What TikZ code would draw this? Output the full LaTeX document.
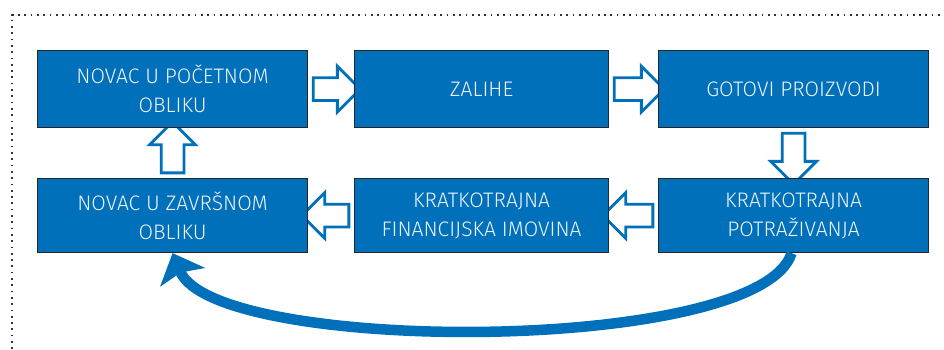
\documentclass[tikz,border=0pt]{standalone}
\usepackage{fontspec}
\setmainfont{Fira Sans Light}
\usetikzlibrary{shapes.arrows,arrows.meta,backgrounds,calc}
\definecolor{blu}{HTML}{0070BA}
\definecolor{txt}{HTML}{EEF4FA}
\begin{document}
\begin{tikzpicture}[x=1pt,y=-1pt,
  box/.style={draw=black!85, line width=1.1pt, fill=blu, text=txt, anchor=north west,
    align=center, inner sep=0pt, font=\fontsize{21}{29}\selectfont},
  fat/.style={single arrow, draw=blu, fill=white, line width=2.8pt, inner xsep=0pt,
    inner ysep=10pt, minimum width=0pt, single arrow head extend=11.5pt},
  framedots/.style={draw=black!80, line width=1.7pt, dash pattern=on 1.7pt off 4.6pt},
  loop/.style={draw=blu, line width=10.5pt, -{Stealth[length=26pt, width=48pt, inset=5pt]}}]
\useasboundingbox (0,0) rectangle (944,349);
\draw[framedots] (12,349) -- (12,15) -- (944,15);
\node[box, minimum width=270pt, minimum height=77pt] (A) at (37,50) {NOVAC U POČETNOM\\OBLIKU};
\node[box, minimum width=254pt, minimum height=77pt] (B) at (354,50) {ZALIHE};
\node[box, minimum width=270pt, minimum height=77pt] (C) at (658,50) {GOTOVI PROIZVODI};
\node[box, minimum width=270pt, minimum height=74pt] (D) at (37,178) {NOVAC U ZAVRŠNOM\\OBLIKU};
\node[box, minimum width=254pt, minimum height=74pt] (E) at (354,178) {KRATKOTRAJNA\\FINANCIJSKA IMOVINA};
\node[box, minimum width=270pt, minimum height=74pt] (F) at (658,178) {KRATKOTRAJNA\\POTRAŽIVANJA};
\begin{scope}[on background layer]
\node[fat, minimum height=47pt] (ab) at ($(A.east)!.5!(B.west)$) {};
\node[fat, minimum height=50pt] (bc) at ($(B.east)!.5!(C.west)$) {};
\node[fat, minimum height=51pt, rotate=-90] (cf) at ($(C.south)!.5!(F.north)$) {};
\node[fat, minimum height=50pt, rotate=180] (fe) at ($(F.west)!.5!(E.east)$) {};
\node[fat, minimum height=47pt, rotate=180] (ed) at ($(E.west)!.5!(D.east)$) {};
\node[fat, minimum height=51pt, rotate=90] (da) at ($(D.north)!.5!(A.south)$) {};
\end{scope}
\draw[loop] ([xshift=-2pt]F.south) .. controls (760,355) and (215,355) .. (D.south);
\end{tikzpicture}
\end{document}
